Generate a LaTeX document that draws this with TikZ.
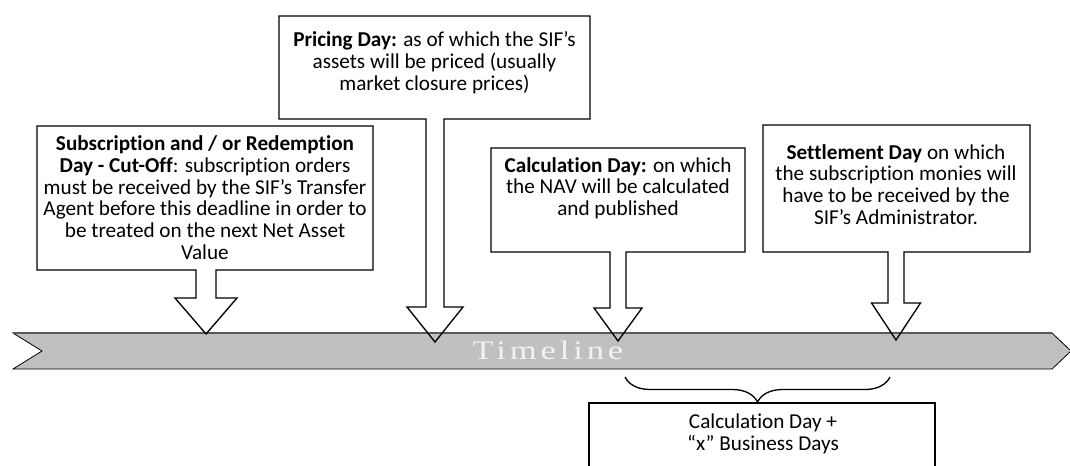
\documentclass[tikz,border=0pt]{standalone}
\usepackage{fontspec}
\setmainfont{Carlito}[Ligatures=NoCommon]
\newfontfamily\tlfont[LetterSpace=11]{Liberation Serif}
\usetikzlibrary{decorations.pathreplacing}
\definecolor{bandgray}{HTML}{C0C0C0}
\definecolor{bandedge}{HTML}{595959}
\definecolor{tlwhite}{HTML}{F2F2F2}

\begin{document}
\begin{tikzpicture}
  [x=0.75pt, y=-0.75pt,
   callout/.style={draw=black, line width=1pt, line join=miter},
   boxtext/.style={align=center, inner sep=0pt, font=\fontsize{15.9pt}{16.3pt}\selectfont},
   band/.style={fill=bandgray, draw=black, line width=0.6pt},
   brace/.style={decorate, decoration={brace, mirror, amplitude=18.75pt}, line width=1pt}]
  \clip (0,0) rectangle (1070,465);

  % timeline band
  \draw[band] (13,333) -- (1052,333) -- (1071,351) -- (1052,369) -- (13,369) -- (42,351) -- cycle;
  \draw[bandedge, line width=1.3pt] (13,333) -- (1052,333);
  \node (tl) at (548,350)
    {\scalebox{1.3}[1]{\tlfont\fontsize{20pt}{20pt}\selectfont\color{tlwhite}Timeline}};

  % callout boxes with their arrows
  \foreach \n/\l/\t/\r/\b/\cx/\sw/\hw/\hy/\ty in
     {sub/37/126/373/270/206/10/31/298/334,
      price/279/16/590/119/435/9/28/307/342,
      calc/491/148/745/252/618/8/24/308/341,
      settle/763/125/1030/252/896/8/24.5/303/340}
  {
    \coordinate (\n tip) at (\cx,\ty);
    \draw[callout] (\l,\b) -- (\l,\t) -- (\r,\t) -- (\r,\b)
      -- ({\cx+\sw},\b) -- ({\cx+\sw},\hy) -- ({\cx+\hw},\hy) -- (\n tip)
      -- ({\cx-\hw},\hy) -- ({\cx-\sw},\hy) -- ({\cx-\sw},\b) -- cycle;
  }

  \node[boxtext] (subtext) at (205,197.5)
    {\textbf{Subscription and / or Redemption}\\
     \textbf{Day - Cut-Off}: subscription orders\\
     must be received by the SIF’s Transfer\\
     Agent before this deadline in order to\\
     be treated on the next Net Asset\\
     Value};
  \node[boxtext] (pricetext) at (434.5,62.5)
    {\textbf{Pricing Day:} as of which the SIF’s\\
     assets will be priced (usually\\
     market closure prices)};
  \node[boxtext] (calctext) at (618,188)
    {\textbf{Calculation Day:} on which\\
     the NAV will be calculated\\
     and published};
  \node[boxtext] (settletext) at (896,184.5)
    {\textbf{Settlement Day} on which\\
     the subscription monies will\\
     have to be received by the\\
     SIF’s Administrator.};

  % settlement period
  \coordinate (bl) at (625,377);
  \coordinate (br) at (890,377);
  \draw[brace] (bl) -- (br);
  \draw[callout] (589,480) -- (589,403) -- (935,403) -- (935,480);
  \node[boxtext] (bustext) at (763,434)
    {Calculation Day +\\
     “x” Business Days};
\end{tikzpicture}
\end{document}
